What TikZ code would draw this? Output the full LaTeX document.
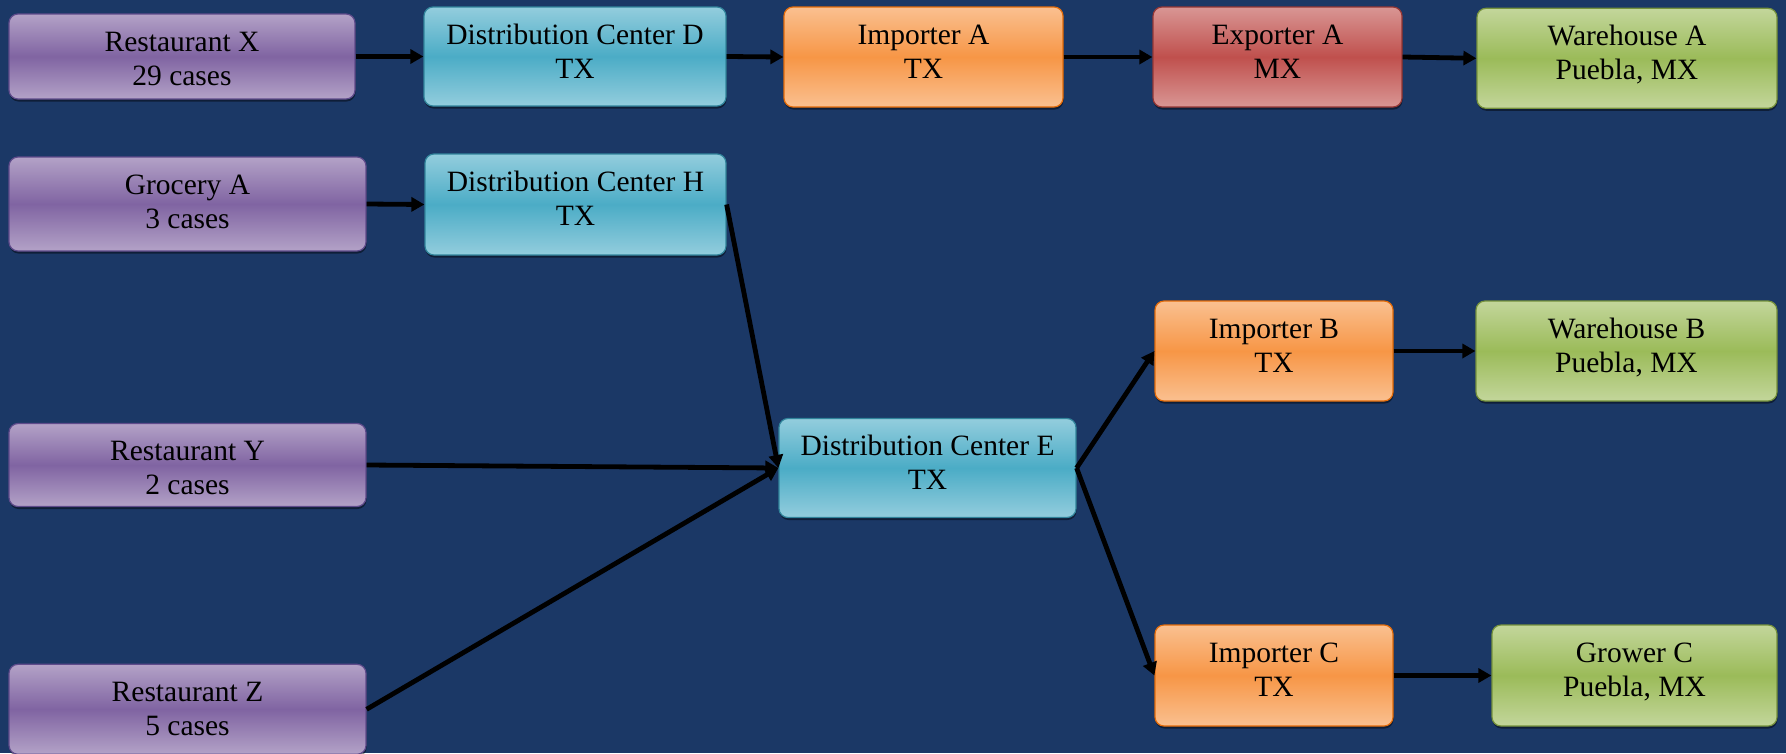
\documentclass[tikz,border=0pt]{standalone}
\usepackage{fontspec}
\setmainfont{Liberation Serif}
\newfontfamily\boxfont{Liberation Serif}
\usetikzlibrary{arrows.meta,shadows}
\definecolor{bgc}{HTML}{1B3866}
\definecolor{pL}{HTML}{B3A2C7}\definecolor{pD}{HTML}{8064A2}\definecolor{pB}{HTML}{5F4B8B}
\definecolor{bL}{HTML}{93CDDD}\definecolor{bD}{HTML}{4BACC6}\definecolor{bB}{HTML}{31849B}
\definecolor{oL}{HTML}{FAC090}\definecolor{oD}{HTML}{F79646}\definecolor{oB}{HTML}{E46C0A}
\definecolor{rL}{HTML}{D99694}\definecolor{rD}{HTML}{C0504D}\definecolor{rB}{HTML}{953735}
\definecolor{gL}{HTML}{C3D69B}\definecolor{gD}{HTML}{9BBB59}\definecolor{gB}{HTML}{76923C}
\newcommand\bxtext[3]{\raisebox{#1pt}[\height][\depth]{\begin{tabular}{@{}c@{}}#2\\#3\end{tabular}}}
\tikzset{
  box/.style={rectangle, rounded corners=9pt, line width=1.2pt, inner sep=0pt,
    font=\boxfont\fontsize{29.5}{34}\selectfont, text=black,
    drop shadow={shadow xshift=0.5pt, shadow yshift=-2.5pt, opacity=0.45, fill=black}},
  purplebox/.style={box, draw=pB, top color=pL, bottom color=pL, middle color=pD},
  bluebox/.style={box, draw=bB, top color=bL, bottom color=bL, middle color=bD},
  orangebox/.style={box, draw=oB, top color=oL, bottom color=oL, middle color=oD},
  redbox/.style={box, draw=rB, top color=rL, bottom color=rL, middle color=rD},
  greenbox/.style={box, draw=gB, top color=gL, bottom color=gL, middle color=gD},
  flow/.style={line width=4.8pt, draw=black, -{Triangle[length=13pt,width=14pt]}}
}
\begin{document}
\begin{tikzpicture}[x=1pt,y=-1pt]
\fill[bgc] (0,0) rectangle (1786,753);
\useasboundingbox (0,0) rectangle (1786,753);
% left column
\node[purplebox, minimum width=346pt, minimum height=85pt] (rx) at (182,56.5) {\bxtext{-4.7}{Restaurant X}{29 cases}};
\node[purplebox, minimum width=357pt, minimum height=94pt] (gra) at (187.5,204) {\bxtext{-0.2}{Grocery A}{3 cases}};
\node[purplebox, minimum width=357pt, minimum height=83pt] (ry) at (187.5,465) {\bxtext{-5.7}{Restaurant Y}{2 cases}};
\node[purplebox, minimum width=357pt, minimum height=90pt] (rz) at (187.5,709.3) {\bxtext{-2.2}{Restaurant Z}{5 cases}};
% distribution centers
\node[bluebox, minimum width=302pt, minimum height=99pt] (dcd) at (575,56.5) {\bxtext{2.3}{Distribution Center D}{TX}};
\node[bluebox, minimum width=301pt, minimum height=101pt] (dch) at (575.5,204.5) {\bxtext{3.3}{Distribution Center H}{TX}};
\node[bluebox, minimum width=297pt, minimum height=99pt] (dce) at (927.5,468) {\bxtext{2.3}{Distribution Center E}{TX}};
% importers / exporter
\node[orangebox, minimum width=279pt, minimum height=100pt] (ima) at (923.5,57) {\bxtext{2.8}{Importer A}{TX}};
\node[redbox, minimum width=249pt, minimum height=100pt] (exa) at (1277.5,57) {\bxtext{2.8}{Exporter A}{MX}};
\node[orangebox, minimum width=238pt, minimum height=100pt] (imb) at (1274,351) {\bxtext{2.8}{Importer B}{TX}};
\node[orangebox, minimum width=238pt, minimum height=101pt] (imc) at (1274,675.5) {\bxtext{3.3}{Importer C}{TX}};
% destinations
\node[greenbox, minimum width=300pt, minimum height=100pt] (wha) at (1627,58.3) {\bxtext{2.8}{Warehouse A}{Puebla, MX}};
\node[greenbox, minimum width=301pt, minimum height=100pt] (whb) at (1626.5,351) {\bxtext{2.8}{Warehouse B}{Puebla, MX}};
\node[greenbox, minimum width=285pt, minimum height=101pt] (grc) at (1634.5,675.5) {\bxtext{3.3}{Grower C}{Puebla, MX}};
% connectors
\draw[flow] (rx.east) -- (dcd.west);
\draw[flow] (dcd.east) -- (ima.west);
\draw[flow] (ima.east) -- (exa.west);
\draw[flow] (exa.east) -- (wha.west);
\draw[flow] (gra.east) -- (dch.west);
\draw[flow] (dch.east) -- (dce.west);
\draw[flow] (ry.east) -- (dce.west);
\draw[flow] (rz.east) -- (dce.west);
\draw[flow] (dce.east) -- (imb.west);
\draw[flow] (dce.east) -- (imc.west);
\draw[flow] (imb.east) -- (whb.west);
\draw[flow] (imc.east) -- (grc.west);
\end{tikzpicture}
\end{document}
